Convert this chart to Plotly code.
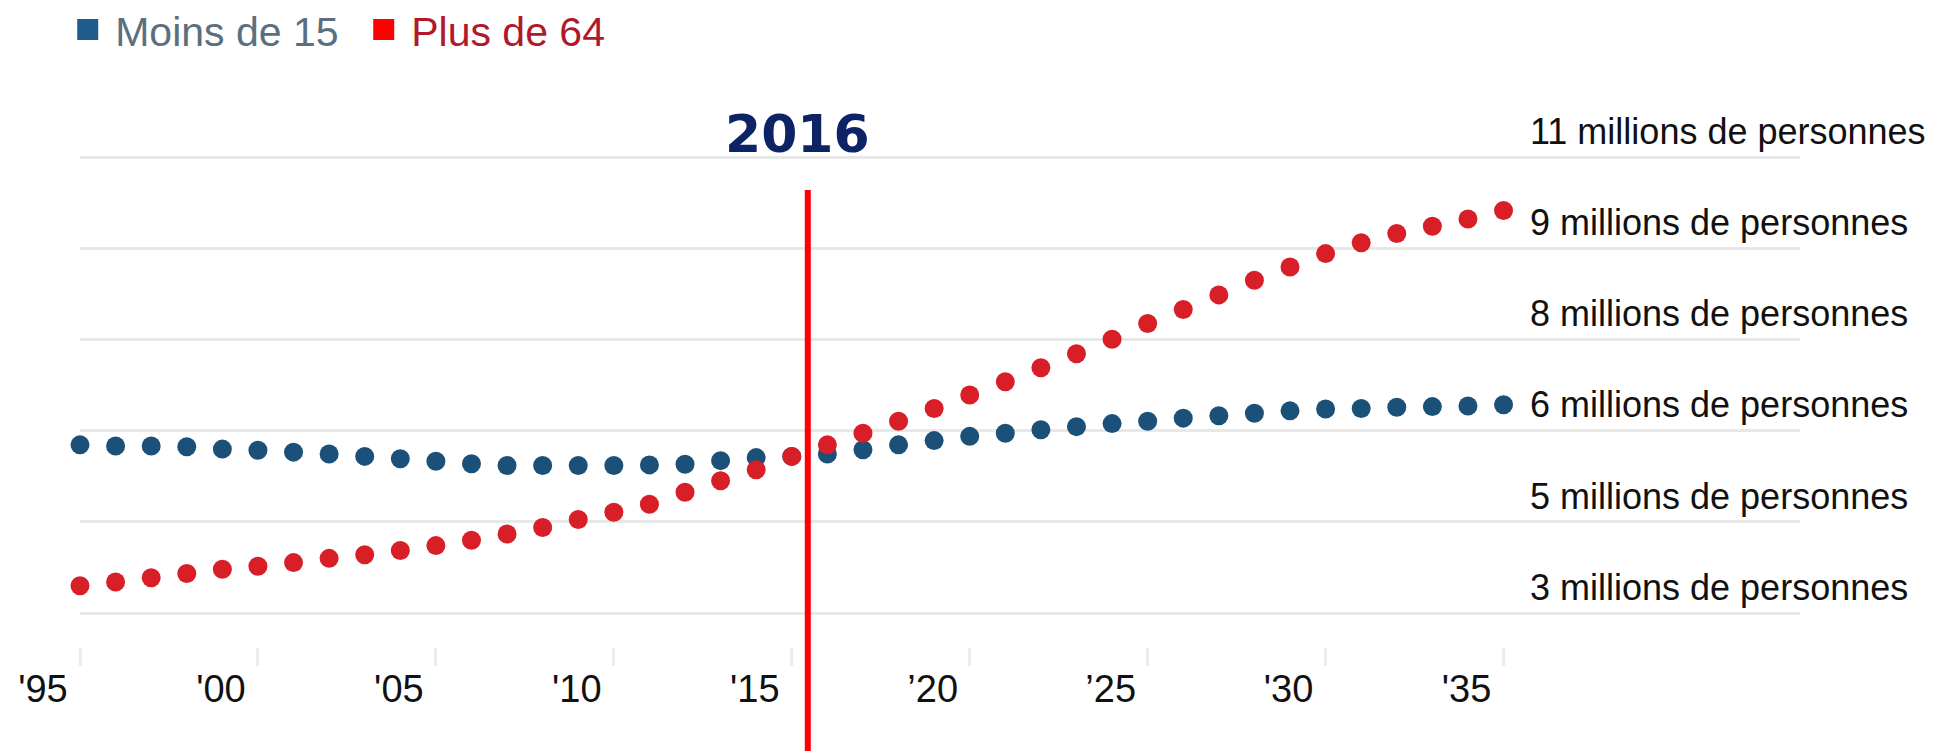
import plotly.graph_objects as go

years = [1996, 1997, 1998, 1999, 2000, 2001, 2002, 2003, 2004, 2005,
         2006, 2007, 2008, 2009, 2010, 2011, 2012, 2013, 2014, 2015,
         2016, 2017, 2018, 2019, 2020, 2021, 2022, 2023, 2024, 2025,
         2026, 2027, 2028, 2029, 2030, 2031, 2032, 2033, 2034, 2035, 2036]

moins_15 = [5.77, 5.75, 5.75, 5.74, 5.70, 5.68, 5.65, 5.62, 5.58, 5.54,
            5.50, 5.46, 5.43, 5.43, 5.43, 5.43, 5.44, 5.45, 5.51, 5.56,
            5.58, 5.62, 5.69, 5.77, 5.84, 5.91, 5.96, 6.02, 6.07, 6.12,
            6.16, 6.21, 6.25, 6.29, 6.33, 6.36, 6.37, 6.39, 6.40, 6.41, 6.43]

plus_64 = [3.45, 3.51, 3.58, 3.65, 3.72, 3.77, 3.83, 3.90, 3.96, 4.03,
           4.11, 4.20, 4.30, 4.41, 4.54, 4.66, 4.79, 4.99, 5.18, 5.36,
           5.58, 5.77, 5.96, 6.16, 6.37, 6.59, 6.81, 7.04, 7.27, 7.51,
           7.77, 8.00, 8.24, 8.48, 8.70, 8.92, 9.10, 9.25, 9.37, 9.49, 9.63]

x_tick_years = [1996, 2001, 2006, 2011, 2016, 2021, 2026, 2031, 2036]
x_tick_labels = ["'95", "'00", "'05", "'10", "'15", "\u201920", "\u201925", "'30", "'35"]

y_tick_vals = [3, 4.5, 6, 7.5, 9, 10.5]
y_tick_labels = ["3 millions de personnes", "5 millions de personnes",
                 "6 millions de personnes", "8 millions de personnes",
                 "9 millions de personnes", "11 millions de personnes"]

series_names = ["Moins de 15", "Plus de 64"]
marker_year = 2016.45
marker_label = "2016"
label_year = 2016.15

BLUE = "#1b5079"
RED = "#d81e27"

fig = go.Figure()

fig.add_trace(go.Scatter(x=years, y=moins_15, mode="markers", showlegend=False,
                         marker=dict(size=19, color=BLUE), cliponaxis=False))
fig.add_trace(go.Scatter(x=years, y=plus_64, mode="markers", showlegend=False,
                         marker=dict(size=19, color=RED), cliponaxis=False))

# legend entries
fig.add_trace(go.Scatter(x=[None], y=[None], mode="markers",
                         name='<span style="color:#5b6f7e">%s</span>' % series_names[0],
                         marker=dict(symbol="square", size=20, color="#1f5b8c",
                                     line=dict(width=5, color="#1f5b8c"))))
fig.add_trace(go.Scatter(x=[None], y=[None], mode="markers",
                         name='<span style="color:#b2182b">%s</span>' % series_names[1],
                         marker=dict(symbol="square", size=20, color="#ff0000",
                                     line=dict(width=5, color="#ff0000"))))

fig.add_shape(type="line", xref="x", yref="paper",
              x0=marker_year, x1=marker_year, y0=-0.2, y1=0.831,
              line=dict(color="#ff0000", width=6), layer="above")

fig.add_annotation(x=label_year, xref="x", y=0.9327, yref="paper",
                   text="<b>%s</b>" % marker_label, showarrow=False,
                   xanchor="center", yanchor="middle",
                   font=dict(family="DejaVu Sans", size=52, color="#0d2366"))

fig.update_layout(
    width=1947, height=751, autosize=False,
    margin=dict(l=80, r=147, t=97, b=104, pad=0, autoexpand=False),
    paper_bgcolor="white", plot_bgcolor="white",
    font=dict(family="Liberation Sans, Arial, sans-serif", color="#111111"),
    showlegend=True,
    legend=dict(orientation="h", x=-0.0115, y=1.122, xanchor="left", yanchor="middle",
                font=dict(size=41), itemwidth=45, entrywidth=236, entrywidthmode="pixels",
                bgcolor="rgba(0,0,0,0)", tracegroupgap=0, itemclick=False),
    xaxis=dict(range=[1996, 2044.33], tickmode="array", tickvals=x_tick_years,
               ticktext=x_tick_labels, ticks="outside", ticklen=18, tickwidth=3,
               tickcolor="#ececec", showgrid=False, zeroline=False, showline=False,
               tickfont=dict(size=38, color="#111111"), ticklabelshift=-37,
               ticklabelstandoff=-10),
    yaxis=dict(range=[2.44, 11.5], side="right", tickmode="array",
               tickvals=y_tick_vals, ticktext=y_tick_labels, showgrid=True,
               gridcolor="#e8e8e8", gridwidth=3, zeroline=False, showline=False,
               ticks="", tickfont=dict(size=36, color="#111111"),
               ticklabelstandoff=-271, ticklabelshift=-26),
)

fig.write_html("out.html", config={"displayModeBar": False},
               post_script="document.body.style.margin='0';document.body.style.overflow='hidden';")
